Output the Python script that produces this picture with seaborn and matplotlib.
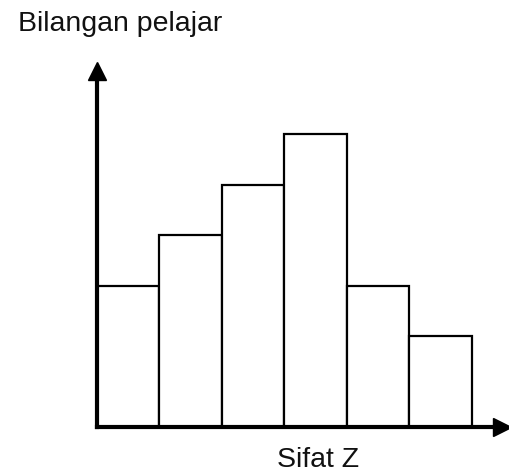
import matplotlib
matplotlib.use("Agg")
import matplotlib.pyplot as plt
import seaborn as sns
import numpy as np

# Data (bar heights, arbitrary units)
bin_edges = [0, 1, 2, 3, 4, 5, 6]
bin_centers = [0.5, 1.5, 2.5, 3.5, 4.5, 5.5]
counts = [2.8, 3.8, 4.8, 5.8, 2.8, 1.8]

sns.set_style("white")
plt.rcParams['font.family'] = ['Liberation Sans', 'DejaVu Sans']

fig = plt.figure(figsize=(5.10, 4.75), dpi=100)
ax = fig.add_axes([0.190, 0.101, 0.794, 0.749])

sns.histplot(x=bin_centers, weights=counts, bins=bin_edges, ax=ax,
             color="white", edgecolor="black", linewidth=1.6, alpha=1)

ax.set_xlim(0, 6.48)
ax.set_ylim(0, 7.05)
ax.set_xticks([])
ax.set_yticks([])
ax.set_xlabel("")
ax.set_ylabel("")

for side in ["top", "right"]:
    ax.spines[side].set_visible(False)
for side in ["left", "bottom"]:
    ax.spines[side].set_linewidth(3)
    ax.spines[side].set_color("black")
    ax.spines[side].set_zorder(5)

# Arrow heads
ax.plot(1, 0, ">k", markersize=13, transform=ax.transAxes, clip_on=False, zorder=6)
ax.plot(0, 1, "^k", markersize=13, transform=ax.transAxes, clip_on=False, zorder=6)

fig.text(0.035, 0.935, "Bilangan pelajar", fontsize=20.5, va="baseline", ha="left", color="#111111")
fig.text(0.624, 0.016, "Sifat Z", fontsize=20.5, va="baseline", ha="center", color="#111111")

fig.savefig("out.png", dpi=100, facecolor="white")
